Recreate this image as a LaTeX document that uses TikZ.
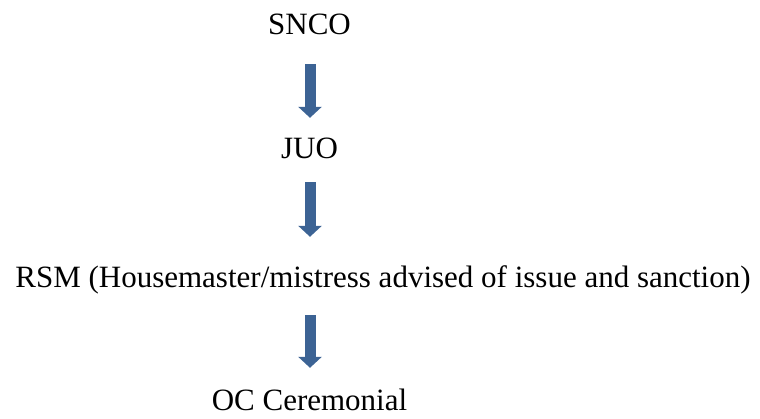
\documentclass[tikz,border=0pt]{standalone}
\usepackage{fontspec}
\setmainfont{Liberation Serif}
\usetikzlibrary{arrows.meta}
\definecolor{arrowblue}{RGB}{60,99,148}
\tikzset{
  lbl/.style={inner sep=0pt, text height=21pt, text depth=6pt, font=\fontsize{31}{36}\selectfont},
  blockarrow/.style={draw=arrowblue, line width=11pt, -{Triangle[width=23pt,length=11pt]}}
}
\begin{document}
\begin{tikzpicture}[x=1pt,y=-1pt]
\useasboundingbox (0,0) rectangle (760,418);
\node[lbl, anchor=base] (snco) at (309.5,34) {SNCO};
\node[lbl, anchor=base] (juo) at (309.5,158) {JUO};
\node[lbl, anchor=base] (rsm) at (383,287) {RSM (Housemaster/mistress advised of issue and sanction)};
\node[lbl, anchor=base, text depth=1pt] (oc) at (309.5,410) {OC Ceremonial};
\coordinate (ax) at (310,0);
\draw[blockarrow, shorten <=24pt, shorten >=19pt] (ax |- snco.south) -- (ax |- juo.north);
\draw[blockarrow, shorten <=18pt, shorten >=29pt] (ax |- juo.south) -- (ax |- rsm.north);
\draw[blockarrow, shorten <=22pt, shorten >=21pt] (ax |- rsm.south) -- (ax |- oc.north);
\end{tikzpicture}
\end{document}
